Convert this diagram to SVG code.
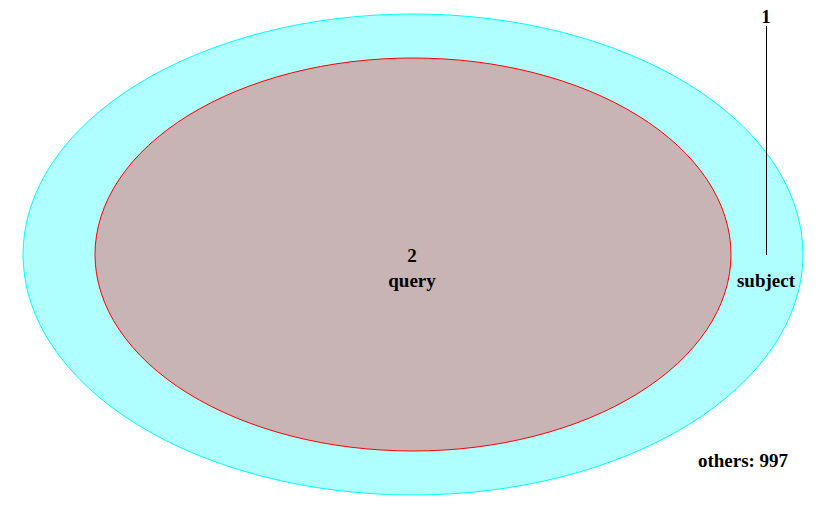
<svg xmlns="http://www.w3.org/2000/svg" width="826" height="510" viewBox="0 0 826 510">
<style>
text{font-family:"Liberation Serif","Times New Roman",serif;font-weight:bold;font-size:19px;fill:#000;text-anchor:middle}
</style>
<rect width="826" height="510" fill="#fff"/>
<g id="subject">
<ellipse cx="413" cy="254.5" rx="390" ry="240.5" fill="#b0ffff" stroke="#00ffff" stroke-width="1"/>
</g>
<g id="query">
<ellipse cx="413" cy="254.5" rx="318" ry="196.5" fill="#c8b4b4" stroke="#ff0000" stroke-width="1"/>
<text x="412" y="262">2</text>
<text x="412" y="287">query</text>
</g>
<g id="connectors">
<line x1="766.5" y1="26" x2="766.5" y2="255" stroke="#000" stroke-width="1"/>
</g>
<g id="labels">
<text x="766" y="23">1</text>
<text x="766" y="287">subject</text>
<text x="743" y="467">others: 997</text>
</g>
</svg>
